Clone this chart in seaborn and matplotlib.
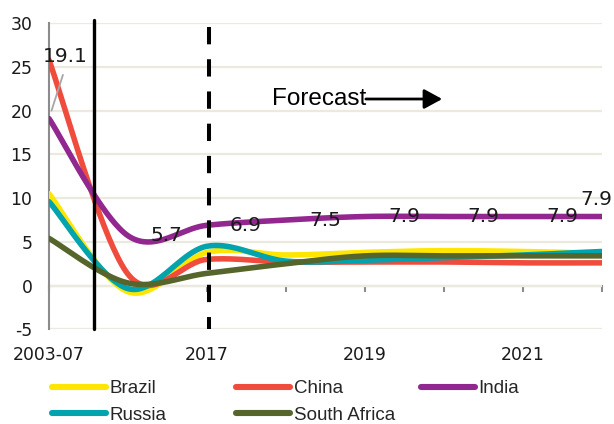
import numpy as np
import pandas as pd
import matplotlib
matplotlib.use("Agg")
import matplotlib.pyplot as plt
import seaborn as sns
from matplotlib.lines import Line2D

# Period categories (only every other one is labelled on the axis)
periods = ["2003-07", "2008-16", "2017", "2018", "2019", "2020", "2021", "2022"]

# Growth by country, %
brazil = [10.5, -0.7, 3.8, 3.5, 3.8, 4.0, 3.9, 3.7]
china = [25.8, 1.3, 3.0, 2.7, 2.7, 2.7, 2.6, 2.6]
india = [19.1, 5.7, 6.9, 7.5, 7.9, 7.9, 7.9, 7.9]
russia = [9.6, -0.35, 4.5, 2.8, 2.9, 3.2, 3.5, 3.9]
south_africa = [5.4, 0.3, 1.4, 2.5, 3.4, 3.4, 3.4, 3.4]

countries = ["Brazil", "China", "India", "Russia", "South Africa"]
series = [brazil, china, india, russia, south_africa]
colors = ["#FFE600", "#F04C3E", "#91278F", "#00A3AE", "#55652C"]
palette = dict(zip(countries, colors))

sns.set_theme(style="white")
plt.rcParams["font.family"] = ["DejaVu Sans"]
plt.rcParams["axes.unicode_minus"] = False

W, H = 614, 424
fig = plt.figure(figsize=(W / 100, H / 100), dpi=100)
x_left, x_right, y_top, y_bot = 49, 602, 23.3, 329.3
ax = fig.add_axes([x_left / W, 1 - y_bot / H, (x_right - x_left) / W, (y_bot - y_top) / H])
ax.set_xlim(0, len(periods) - 1)
ax.set_ylim(-5, 30)
ax.set_yticks(np.arange(-5, 31, 5))


def smooth(xs, ys, n=40):
    """Bezier smoothing in screen space, control arms capped at half a segment."""
    pts = ax.transData.transform(np.column_stack([xs, ys]))
    m = len(pts)
    segs = []
    for i in range(m - 1):
        p0, p1 = pts[max(i - 1, 0)], pts[i]
        p2, p3 = pts[i + 1], pts[min(i + 2, m - 1)]
        d12 = np.linalg.norm(p2 - p1)
        d02 = np.linalg.norm(p2 - p0)
        d13 = np.linalg.norm(p3 - p1)
        f1 = min(1 / 6, d12 / (2 * d02)) if d02 > 0 else 0
        f2 = min(1 / 6, d12 / (2 * d13)) if d13 > 0 else 0
        c1 = p1 + (p2 - p0) * f1
        c2 = p2 - (p3 - p1) * f2
        t = np.linspace(0, 1, n, endpoint=(i == m - 2))[:, None]
        segs.append((1 - t) ** 3 * p1 + 3 * (1 - t) ** 2 * t * c1
                    + 3 * (1 - t) * t ** 2 * c2 + t ** 3 * p2)
    return ax.transData.inverted().transform(np.vstack(segs))


frames = []
for name, vals in zip(countries, series):
    xy = smooth(np.arange(len(vals)), np.asarray(vals, float))
    frames.append(pd.DataFrame({"country": name, "x": xy[:, 0], "value": xy[:, 1]}))
df = pd.concat(frames, ignore_index=True)

sns.lineplot(data=df, x="x", y="value", hue="country", hue_order=countries,
             palette=palette, sort=False, estimator=None, linewidth=4.0,
             legend=False, ax=ax, zorder=3)

# Gridlines and axes styling
ax.yaxis.grid(True, color="#ECE9DF", linewidth=1.6)
ax.set_axisbelow(True)
for s in ["top", "right", "bottom"]:
    ax.spines[s].set_visible(False)
ax.spines["left"].set_color("#8C8C8C")
ax.spines["left"].set_linewidth(1.5)
ax.tick_params(axis="y", direction="in", length=4, width=1.5, color="#8C8C8C",
               pad=12, labelsize=12.4, labelcolor="#1A1A1A")
ax.set_xticks(range(len(periods))[::2])
ax.set_xticklabels(periods[::2])
ax.tick_params(axis="x", length=0, pad=12, labelsize=12.4, labelcolor="#1A1A1A")
ax.set_xlabel("")
ax.set_ylabel("")

# Category axis crossing at zero
zero_ax = ax.secondary_xaxis((0 - (-5)) / 35)
zero_ax.set_xticks(range(len(periods)))
zero_ax.tick_params(axis="x", direction="out", length=4, width=1.5,
                    color="#8C8C8C", labelbottom=False)
zero_ax.spines["bottom"].set_color("#8C8C8C")
zero_ax.spines["bottom"].set_linewidth(1.5)

# Period separators
ax.plot([0.57, 0.57], [-5, 30.4], color="black", lw=2.4, clip_on=False, zorder=5)
ax.plot([2.03, 2.03], [29.6, -5], color="black", lw=2.9, clip_on=False, zorder=5,
        dashes=(4.3, 3.7), solid_capstyle="butt", dash_capstyle="butt")

# India value labels
lab_kw = dict(textcoords="offset points", fontsize=14.5, color="#1A1A1A", zorder=6)
for i, v in enumerate(india):
    if i == 0:
        ax.annotate(f"{v}", xy=(i, v), xytext=(12, 44.5), ha="center", va="center",
                    arrowprops=dict(arrowstyle="-", color="#A6A6A6", lw=1.3,
                                    shrinkA=4, shrinkB=6, relpos=(0.5, 0)),
                    annotation_clip=False, **lab_kw)
    elif i == len(india) - 1:
        ax.annotate(f"{v}", xy=(i, v), xytext=(7.5, 12), ha="right", va="center",
                    annotation_clip=False, **lab_kw)
    else:
        ax.annotate(f"{v}", xy=(i, v), xytext=(16.5, 0), ha="left", va="center", **lab_kw)

# Forecast marker
ax.text(0.573, 0.7526, "Forecast", transform=ax.transAxes, ha="right", va="center",
        fontsize=17.5, family=["Liberation Sans", "DejaVu Sans"], color="black")
ax.annotate("", xy=(0.711, 0.7526), xytext=(0.573, 0.7526), xycoords="axes fraction",
            arrowprops=dict(arrowstyle="-|>,head_length=0.55,head_width=0.3",
                            mutation_scale=20, lw=2.0, color="black",
                            shrinkA=0, shrinkB=0))

# Legend, laid out in fixed-width columns
handles = {c: Line2D([], [], color=palette[c], lw=4.4, solid_capstyle="round") for c in countries}
columns = [(52, ["Brazil", "Russia"]), (236, ["China", "South Africa"]), (421, ["India"])]
for x0, names in columns:
    leg = fig.legend([handles[n] for n in names], names, loc="upper left",
                     bbox_to_anchor=(x0 / W, 1 - 380 / H), frameon=False,
                     borderpad=0, borderaxespad=0, handlelength=2.9, handletextpad=0.18,
                     labelspacing=0.52,
                     prop={"family": ["Liberation Sans", "DejaVu Sans"], "size": 13.5})

fig.savefig("out.png", dpi=100)
